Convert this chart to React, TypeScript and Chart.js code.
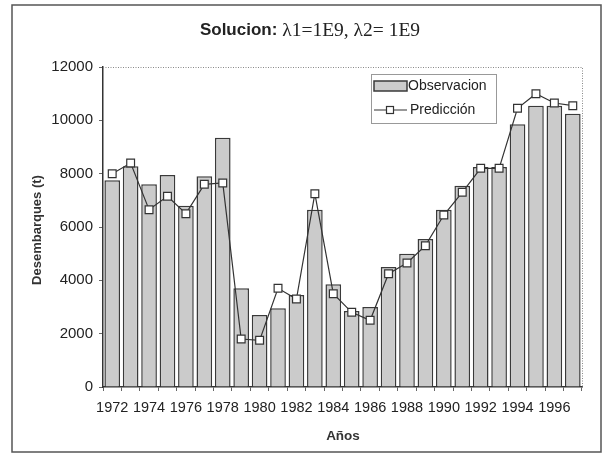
import React, { useEffect, useRef } from "react";
import { Chart, registerables } from "chart.js";

Chart.register(...registerables);

const years: string[] = [
  "1972", "1973", "1974", "1975", "1976", "1977", "1978", "1979", "1980", "1981",
  "1982", "1983", "1984", "1985", "1986", "1987", "1988", "1989", "1990", "1991",
  "1992", "1993", "1994", "1995", "1996", "1997",
];
const observacion: number[] = [
  7750, 8280, 7600, 7950, 6800, 7900, 9350, 3700, 2700, 2950,
  3450, 6650, 3850, 2850, 3000, 4500, 5000, 5550, 6650, 7550,
  8250, 8250, 9850, 10550, 10550, 10250,
];
const prediccion: number[] = [
  8000, 8400, 6650, 7150, 6500, 7600, 7650, 1800, 1750, 3700,
  3300, 7250, 3500, 2800, 2500, 4250, 4650, 5300, 6450, 7300,
  8200, 8200, 10450, 11000, 10650, 10550,
];
const yTicks = { min: 0, max: 12000, step: 2000 };
const titleBold = "Solucion:";
const titleRest = " \u03bb1=1E9, \u03bb2= 1E9";
const yTitle = "Desembarques (t)";
const xTitle = "A\u00f1os";
const legendBar = "Observacion";
const legendLine = "Predicci\u00f3n";

const SANS = "Arial, 'Liberation Sans', sans-serif";
const SERIF = "'Times New Roman', 'Liberation Serif', serif";

const decorPlugin = {
  id: "decor",
  afterDraw(chart: any) {
    const ctx = chart.ctx as CanvasRenderingContext2D;
    const a = chart.chartArea;
    ctx.save();

    // outer frame
    ctx.strokeStyle = "#555";
    ctx.lineWidth = 1.5;
    ctx.strokeRect(12, 5, 589, 447);

    // dotted top and right borders of plot area
    ctx.strokeStyle = "#888";
    ctx.lineWidth = 1;
    ctx.setLineDash([1, 1.5]);
    ctx.beginPath();
    ctx.moveTo(a.left, a.top + 0.5);
    ctx.lineTo(a.right + 0.5, a.top + 0.5);
    ctx.lineTo(a.right + 0.5, a.bottom);
    ctx.stroke();
    ctx.setLineDash([]);

    // title
    ctx.fillStyle = "#222";
    ctx.textBaseline = "middle";
    ctx.textAlign = "left";
    const fb = "bold 17px " + SANS;
    const fr = "19.5px " + SERIF;
    ctx.font = fb;
    const w1 = ctx.measureText(titleBold).width;
    ctx.font = fr;
    const w2 = ctx.measureText(titleRest).width;
    const x0 = 310 - (w1 + w2) / 2;
    ctx.font = fb;
    ctx.fillText(titleBold, x0, 30);
    ctx.font = fr;
    ctx.fillText(titleRest, x0 + w1, 31);

    // axis titles
    ctx.font = "bold 13.5px " + SANS;
    ctx.textAlign = "center";
    ctx.fillStyle = "#333";
    ctx.fillText(xTitle, 343, 436);
    ctx.save();
    ctx.translate(37, (a.top + a.bottom) / 2 + 3);
    ctx.rotate(-Math.PI / 2);
    ctx.font = "bold 13px " + SANS;
    ctx.fillText(yTitle, 0, 0);
    ctx.restore();

    // legend
    ctx.fillStyle = "#fff";
    ctx.fillRect(371, 74, 126, 50);
    ctx.strokeStyle = "#999";
    ctx.lineWidth = 1;
    ctx.strokeRect(371.5, 74.5, 125, 49);
    ctx.fillStyle = "#cccccc";
    ctx.fillRect(374, 81, 33, 10);
    ctx.strokeStyle = "#3a3a3a";
    ctx.lineWidth = 1.5;
    ctx.strokeRect(374, 81, 33, 10);
    ctx.beginPath();
    ctx.moveTo(374, 110);
    ctx.lineTo(407, 110);
    ctx.strokeStyle = "#333";
    ctx.lineWidth = 1.2;
    ctx.stroke();
    ctx.fillStyle = "#fff";
    ctx.fillRect(386.5, 106.5, 7, 7);
    ctx.strokeRect(386.5, 106.5, 7, 7);
    ctx.fillStyle = "#222";
    ctx.textAlign = "left";
    ctx.font = "14px " + SANS;
    ctx.fillText(legendBar, 408, 86);
    ctx.fillText(legendLine, 410, 110);

    ctx.restore();
  },
};

export default function App() {
  const ref = useRef<HTMLCanvasElement | null>(null);
  useEffect(() => {
    if (!ref.current) return;
    const chart = new Chart(ref.current, {
      type: "bar",
      data: {
        labels: years,
        datasets: [
          {
            type: "line",
            label: legendLine,
            data: prediccion,
            borderColor: "#333",
            borderWidth: 1.2,
            pointStyle: "rect",
            pointRadius: 5.5,
            pointBackgroundColor: "#fff",
            pointBorderColor: "#333",
            pointBorderWidth: 1.2,
            tension: 0,
            order: 0,
          } as any,
          {
            type: "bar",
            label: legendBar,
            data: observacion,
            backgroundColor: "#cbcbcb",
            borderColor: "#3a3a3a",
            borderWidth: 1.5,
            barPercentage: 0.85,
            categoryPercentage: 1,
            order: 1,
          },
        ],
      },
      options: {
        responsive: false,
        animation: false,
        layout: { padding: { left: 0, right: 24, top: 67, bottom: 0 } },
        plugins: {
          legend: { display: false },
          title: { display: false },
          tooltip: { enabled: false },
        },
        scales: {
          x: {
            afterFit: (s: any) => {
              s.height = 70;
            },
            grid: {
              display: true,
              drawOnChartArea: false,
              tickLength: 4,
              color: "#666",
              offset: true,
            },
            border: { display: true, color: "#333", width: 1.5 },
            ticks: {
              autoSkip: false,
              maxRotation: 0,
              minRotation: 0,
              padding: 8,
              color: "#222",
              font: { family: SANS, size: 14.5 },
              callback: (_v: any, i: number) => (i % 2 === 0 ? years[i] : ""),
            },
          },
          y: {
            min: yTicks.min,
            max: yTicks.max,
            afterFit: (s: any) => {
              s.width = 103;
            },
            grid: {
              display: true,
              drawOnChartArea: false,
              tickLength: 4,
              color: "#666",
            },
            border: { display: true, color: "#333", width: 1.5 },
            ticks: {
              stepSize: yTicks.step,
              padding: 6,
              color: "#222",
              font: { family: SANS, size: 15 },
              callback: (v: any) => String(v),
            },
          },
        },
      },
      plugins: [decorPlugin],
    });
    return () => chart.destroy();
  }, []);
  return (
    <div style={{ position: "fixed", left: 0, top: 0, width: 606, height: 457, background: "#fff" }}>
      <canvas ref={ref} width={606} height={457} />
    </div>
  );
}
